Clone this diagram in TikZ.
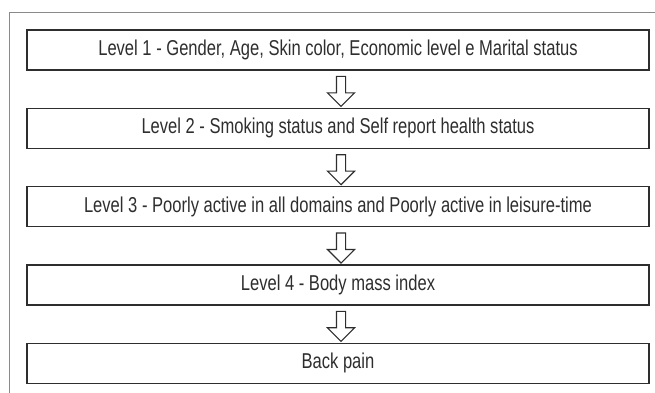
\documentclass[tikz,border=0pt]{standalone}
\usepackage{fontspec}
\setmainfont{Liberation Sans}[FakeStretch=0.77]
\usetikzlibrary{positioning,shapes.arrows}
\definecolor{lvlInk}{HTML}{2E2E2E}
\definecolor{lvlGray}{HTML}{8A8A8A}
\tikzset{
  lvl frame/.style={draw=lvlGray, line width=0.9pt},
  lvl box/.style={draw=lvlInk, line width=1.3pt, minimum width=622pt, minimum height=40pt, inner sep=0pt, text=lvlInk, font=\fontsize{21.5}{25}\selectfont},
  lvl arrow/.style={single arrow, draw=lvlInk, line width=1.1pt, shape border rotate=270, minimum height=30pt, inner sep=4pt, single arrow head extend=9pt},
}
\begin{document}
\begin{tikzpicture}
  \useasboundingbox (0,0) rectangle (655pt,-393pt);
  % Open frame along the left and top edges
  \draw[lvl frame] (9pt,-393pt) -- (9pt,-12pt) -- (655pt,-12pt);
  % The five levels, top to bottom
  \node[lvl box] (lvl1) at (338pt,-50pt) {Level 1 - Gender, Age, Skin color, Economic level e Marital status};
  \node[lvl box, below=37pt of lvl1] (lvl2) {Level 2 - Smoking status and Self report health status};
  \node[lvl box, below=37pt of lvl2] (lvl3) {Level 3 - Poorly active in all domains and Poorly active in leisure-time};
  \node[lvl box, below=37pt of lvl3] (lvl4) {Level 4 - Body mass index};
  \node[lvl box, below=37pt of lvl4] (pain) {Back pain};
  % Hollow arrows between the levels
  \foreach \a/\b in {lvl1/lvl2,lvl2/lvl3,lvl3/lvl4,lvl4/pain}
    \path (\a) -- node[lvl arrow, xshift=3pt] {} (\b);
\end{tikzpicture}
\end{document}
